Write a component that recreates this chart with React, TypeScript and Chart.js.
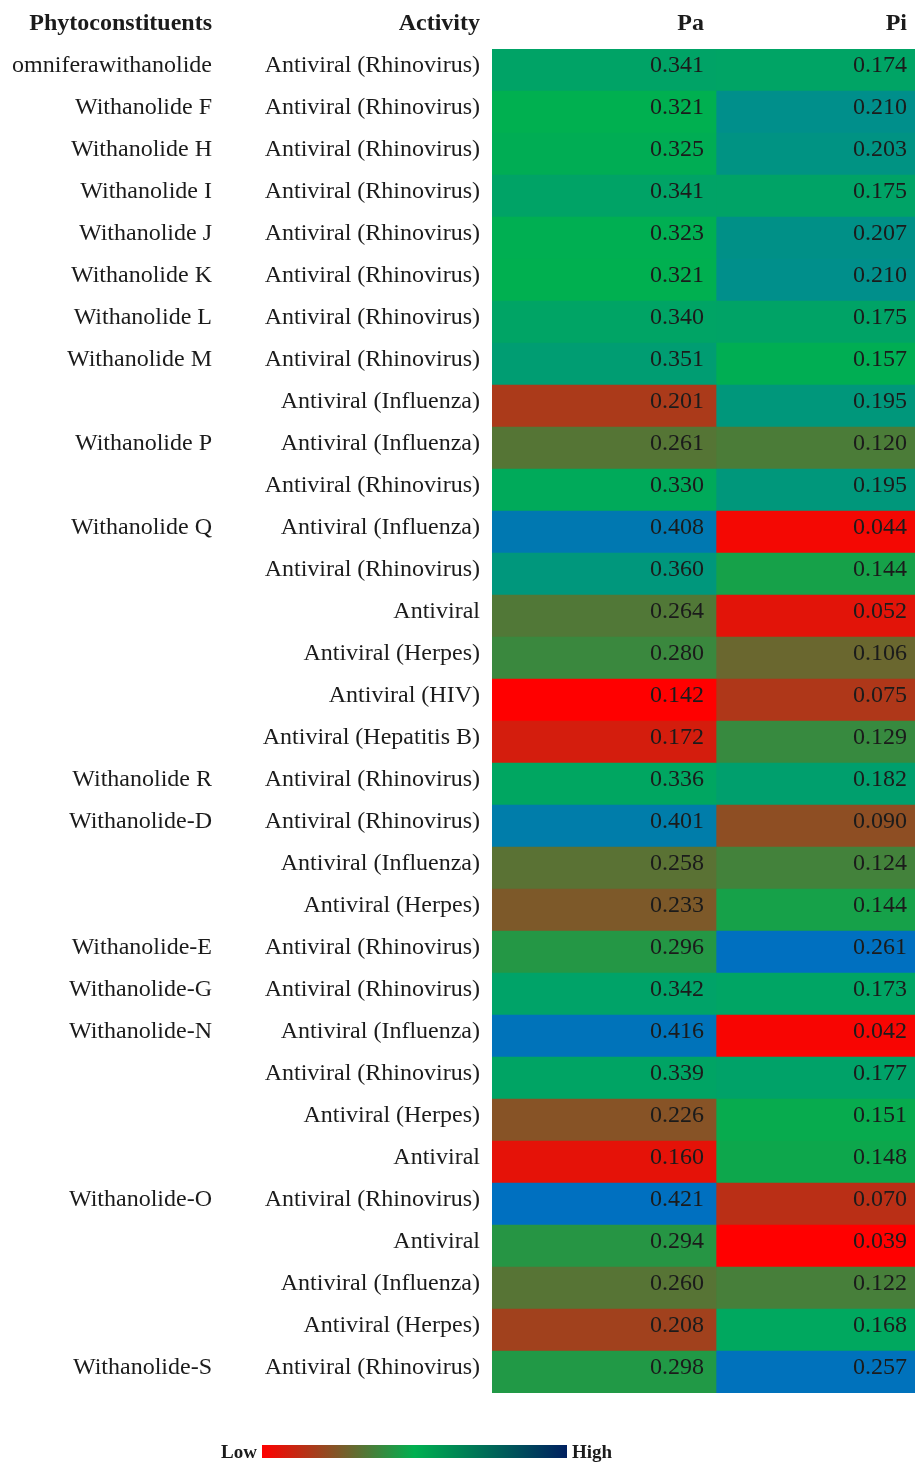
import React, { useEffect, useRef } from "react";
import { Chart, registerables } from "chart.js";

Chart.register(...registerables);

// Table rows: compound name (blank when it continues the compound above), activity, Pa and Pi scores
const compounds = [
  "omniferawithanolide", "Withanolide F", "Withanolide H", "Withanolide I",
  "Withanolide J", "Withanolide K", "Withanolide L", "Withanolide M",
  "", "Withanolide P", "", "Withanolide Q",
  "", "", "", "",
  "", "Withanolide R", "Withanolide-D", "",
  "", "Withanolide-E", "Withanolide-G", "Withanolide-N",
  "", "", "", "Withanolide-O",
  "", "", "", "Withanolide-S",
];

const activities = [
  "Antiviral (Rhinovirus)", "Antiviral (Rhinovirus)", "Antiviral (Rhinovirus)", "Antiviral (Rhinovirus)",
  "Antiviral (Rhinovirus)", "Antiviral (Rhinovirus)", "Antiviral (Rhinovirus)", "Antiviral (Rhinovirus)",
  "Antiviral (Influenza)", "Antiviral (Influenza)", "Antiviral (Rhinovirus)", "Antiviral (Influenza)",
  "Antiviral (Rhinovirus)", "Antiviral", "Antiviral (Herpes)", "Antiviral (HIV)",
  "Antiviral (Hepatitis B)", "Antiviral (Rhinovirus)", "Antiviral (Rhinovirus)", "Antiviral (Influenza)",
  "Antiviral (Herpes)", "Antiviral (Rhinovirus)", "Antiviral (Rhinovirus)", "Antiviral (Influenza)",
  "Antiviral (Rhinovirus)", "Antiviral (Herpes)", "Antiviral", "Antiviral (Rhinovirus)",
  "Antiviral", "Antiviral (Influenza)", "Antiviral (Herpes)", "Antiviral (Rhinovirus)",
];

const paValues = [
  0.341, 0.321, 0.325, 0.341, 0.323, 0.321, 0.340, 0.351,
  0.201, 0.261, 0.330, 0.408, 0.360, 0.264, 0.280, 0.142,
  0.172, 0.336, 0.401, 0.258, 0.233, 0.296, 0.342, 0.416,
  0.339, 0.226, 0.160, 0.421, 0.294, 0.260, 0.208, 0.298,
];

const piValues = [
  0.174, 0.210, 0.203, 0.175, 0.207, 0.210, 0.175, 0.157,
  0.195, 0.120, 0.195, 0.044, 0.144, 0.052, 0.106, 0.075,
  0.129, 0.182, 0.090, 0.124, 0.144, 0.261, 0.173, 0.042,
  0.177, 0.151, 0.148, 0.070, 0.039, 0.122, 0.168, 0.257,
];

const columnHeaders = ["Pa", "Pi"];
const labelHeaders = ["Phytoconstituents", "Activity"];
const legendLabels = ["Low", "High"];

// Layout and style constants
const WIDTH = 915;
const HEIGHT = 1465;
const SPLIT = 224 / 423; // boundary between the Pa and Pi columns on the 0..1 x scale
const VALUE_PAD = [12, 8];
const NAME_RIGHT = 212;
const ACTIVITY_RIGHT = 480;
const FONT = '"Liberation Serif", "Times New Roman", serif';
const TEXT = "#1b1b1b";

const LOW = [255, 0, 0];
const MID = [0, 176, 80];
const HIGH = [0, 112, 192];

const median = (arr: number[]) => {
  const s = [...arr].sort((a, b) => a - b);
  const m = Math.floor(s.length / 2);
  return s.length % 2 ? s[m] : (s[m - 1] + s[m]) / 2;
};

// Three-colour scale: minimum red, median green, maximum blue
const scaleColor = (values: number[]) => {
  const lo = Math.min(...values);
  const hi = Math.max(...values);
  const mid = median(values);
  return values.map((v) => {
    let a: number[], b: number[], t: number;
    if (v <= mid) {
      a = LOW; b = MID; t = mid === lo ? 1 : (v - lo) / (mid - lo);
    } else {
      a = MID; b = HIGH; t = hi === mid ? 0 : (v - mid) / (hi - mid);
    }
    const c = a.map((x, i) => Math.round(x + (b[i] - x) * t));
    return `rgb(${c[0]},${c[1]},${c[2]})`;
  });
};

const tablePlugin = {
  id: "tableText",
  afterDatasetsDraw(chart: any) {
    const { ctx, scales, chartArea } = chart;
    const x = scales.x;
    const y = scales.y;
    const rights = [x.getPixelForValue(SPLIT) - VALUE_PAD[0], x.getPixelForValue(1) - VALUE_PAD[1]];
    const headerY = chartArea.top - 19;

    ctx.save();
    ctx.fillStyle = TEXT;
    ctx.textAlign = "right";
    ctx.textBaseline = "alphabetic";

    // header row
    ctx.font = `bold 24px ${FONT}`;
    ctx.fillText(labelHeaders[0], NAME_RIGHT, headerY);
    ctx.fillText(labelHeaders[1], ACTIVITY_RIGHT, headerY);
    ctx.fillText(columnHeaders[0], rights[0], headerY);
    ctx.fillText(columnHeaders[1], rights[1], headerY);

    // body rows
    ctx.font = `24px ${FONT}`;
    compounds.forEach((name, i) => {
      const cy = y.getPixelForValue(i) + 2;
      if (name) ctx.fillText(name, NAME_RIGHT, cy);
      ctx.fillText(activities[i], ACTIVITY_RIGHT, cy);
      ctx.fillText(paValues[i].toFixed(3), rights[0], cy);
      ctx.fillText(piValues[i].toFixed(3), rights[1], cy);
    });

    // colour key
    const barL = 262, barR = 567, barT = 1445, barH = 13;
    const g = ctx.createLinearGradient(barL, 0, barR, 0);
    g.addColorStop(0, "#ff0000");
    g.addColorStop(0.5, "#00b050");
    g.addColorStop(1, "#002060");
    ctx.fillStyle = g;
    ctx.fillRect(barL, barT, barR - barL, barH);
    ctx.fillStyle = TEXT;
    ctx.font = `bold 19px ${FONT}`;
    ctx.textAlign = "right";
    ctx.fillText(legendLabels[0], barL - 5, barT + 13);
    ctx.textAlign = "left";
    ctx.fillText(legendLabels[1], barR + 5, barT + 13);
    ctx.restore();
  },
};

export default function App() {
  const ref = useRef<HTMLCanvasElement>(null);

  useEffect(() => {
    if (!ref.current) return;
    const rows = compounds.map((_, i) => String(i));
    const chart = new Chart(ref.current, {
      type: "bar",
      data: {
        labels: rows,
        datasets: [
          {
            label: columnHeaders[0],
            data: paValues.map(() => [0, SPLIT]) as any,
            backgroundColor: scaleColor(paValues),
          },
          {
            label: columnHeaders[1],
            data: piValues.map(() => [SPLIT, 1]) as any,
            backgroundColor: scaleColor(piValues),
          },
        ],
      },
      options: {
        indexAxis: "y",
        responsive: false,
        animation: false,
        devicePixelRatio: 1,
        layout: { padding: { left: 492, top: 49, right: 0, bottom: 72 } },
        datasets: {
          bar: {
            barPercentage: 1,
            categoryPercentage: 1,
            grouped: false,
            borderWidth: 0,
          },
        },
        scales: {
          x: { type: "linear", min: 0, max: 1, display: false },
          y: { type: "category", display: false, grid: { display: false } },
        },
        plugins: { legend: { display: false }, tooltip: { enabled: false } },
      },
      plugins: [tablePlugin],
    });
    return () => chart.destroy();
  }, []);

  return (
    <div style={{ position: "absolute", left: 0, top: 0, width: WIDTH, height: HEIGHT, background: "#fff" }}>
      <canvas ref={ref} width={WIDTH} height={HEIGHT} style={{ display: "block" }} />
    </div>
  );
}
